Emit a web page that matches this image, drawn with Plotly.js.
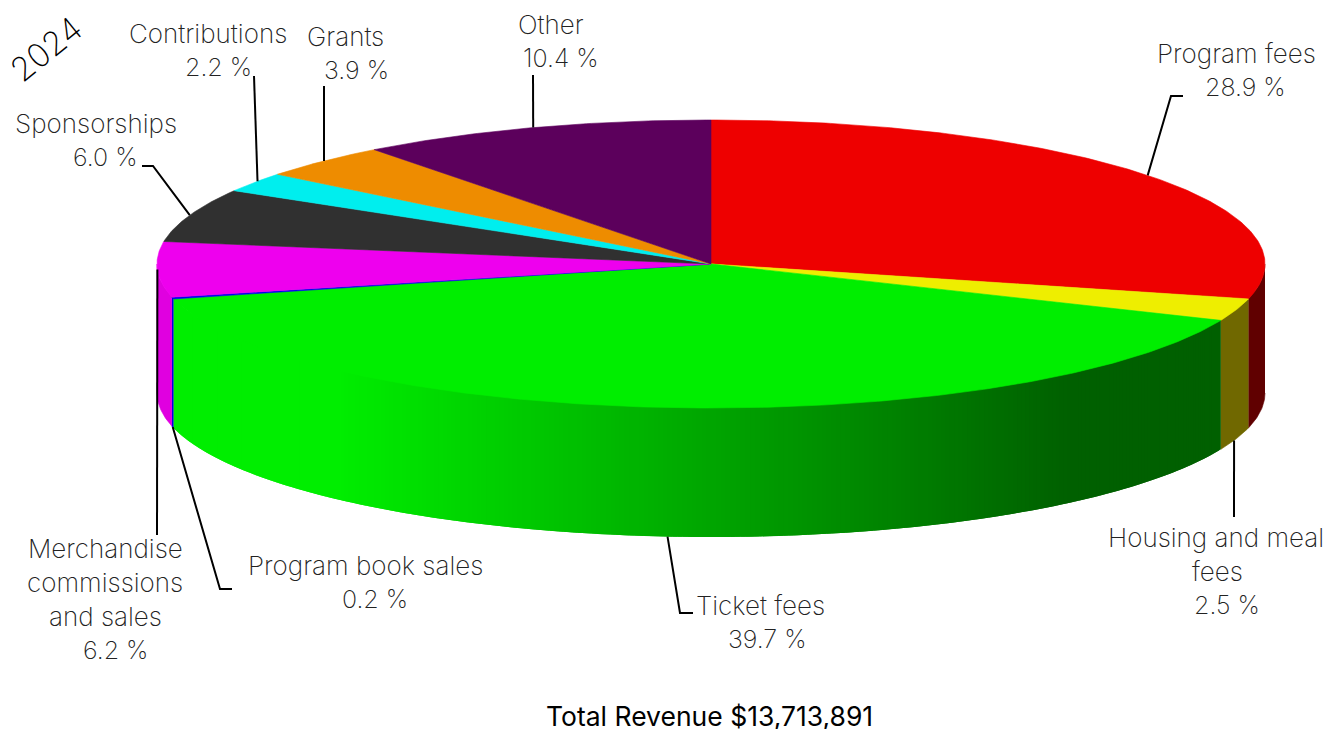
<!DOCTYPE html>
<html>
<head>
<meta charset="utf-8">
<script src="https://cdn.plot.ly/plotly-3.0.1.min.js"></script>
<style>html,body{margin:0;padding:0;background:#fff}#chart{width:1326px;height:729px}</style>
</head>
<body>
<div id="chart"></div>
<script>
// Revenue shares in percent, clockwise from twelve o'clock
const categories = ["Program fees", "Housing and meal fees", "Ticket fees", "Program book sales",
  "Merchandise commissions and sales", "Sponsorships", "Contributions", "Grants", "Other"];
const shares = [28.9, 2.5, 39.7, 0.2, 6.2, 6.0, 2.2, 3.9, 10.4];
const topColors = ["#ee0000", "#eeee00", "#00ee00", "#0000ee", "#ee00ee", "#303030", "#00eeee", "#ee8c00", "#5c005c"];
const wallColors = ["#600000", "#706800", null, "#0000e0", "#e000e0", "#303030", "#00e0e0", "#e08400", "#5c005c"];
const year = "2024";
const totalLabel = "Total Revenue $13,713,891";

// Label text lines: text, centre x, centre y
const labelLines = [
  ["Program fees", 1236, 53], ["28.9 %", 1245, 87],
  ["Housing and meal", 1216, 537], ["fees", 1217, 571], ["2.5 %", 1227, 605],
  ["Ticket fees", 760, 605], ["39.7 %", 767, 639],
  ["Program book sales", 365, 565], ["0.2 %", 375, 599],
  ["Merchandise", 105, 548], ["commissions", 105, 582], ["and sales", 105, 616], ["6.2 %", 115, 650],
  ["Sponsorships", 96, 123], ["6.0 %", 105, 157],
  ["Contributions", 208, 33], ["2.2 %", 218, 67],
  ["Grants", 345, 36], ["3.9 %", 356, 70],
  ["Other", 551, 24], ["10.4 %", 561, 58]
];
// Leader routes after the rim anchor, one per slice
const leaderRoutes = [
  [[1171, 96], [1183, 96]],
  [[1234, 517]],
  [[680, 613], [693, 613]],
  [[220, 589], [232, 589]],
  [[157, 535]],
  [[153, 166], [142, 166]],
  [[254, 76]],
  [[324, 86]],
  [[533, 75]]
];
// Small shift of each leader's anchor along the rim, in degrees
const anchorShift = [0, 0.7, 0, 0, 0, 0, 0.5, 0.15, 0];

// Projection of the tilted disc onto the plotting plane
const CX = 711, CY = 264, RX = 554, RY = 144, DEPTH = 129;
const TEXT_FONT = "Inter, sans-serif";
const rimX = deg => CX + RX * Math.sin(deg * Math.PI / 180);
const rimY = deg => CY - RY * Math.cos(deg * Math.PI / 180);
// Upper wall edge sits just inside the rim so the top face covers it cleanly
const wallTopY = deg => CY - (RY - 2) * Math.cos(deg * Math.PI / 180);

function arc(from, to) {
  const n = Math.max(2, Math.ceil((to - from) / 0.5));
  const pts = [];
  for (let i = 0; i <= n; i++) pts.push(from + (to - from) * i / n);
  return pts;
}
function polygon(xs, ys, color, edge) {
  return {
    x: xs, y: ys, type: "scatter", mode: "lines", fill: "toself", fillcolor: color,
    line: {color: color, width: edge}, hoverinfo: "skip", showlegend: false
  };
}
function wallQuad(a, b, color, edge) {
  const pts = arc(a, b);
  const rev = pts.slice().reverse();
  return polygon(pts.map(rimX).concat(rev.map(rimX)),
    pts.map(wallTopY).concat(rev.map(d => rimY(d) + DEPTH)), color, edge);
}
// Ticket wall darkens from left to right
function shadedGreen(x) {
  const t = Math.min(1, Math.max(0, (1072 - x) / (1072 - 340)));
  const g = Math.round(0x60 + t * (0xee - 0x60));
  return "rgb(0," + g + ",0)";
}

const spans = [];
let acc = 0;
shares.forEach(v => { spans.push([acc * 3.6, (acc + v) * 3.6]); acc += v; });

const traces = [];
// Outer wall of the front half, then the top face over it
spans.forEach((s, i) => {
  const a = Math.max(s[0], 90), b = Math.min(s[1], 270);
  if (b <= a) return;
  if (wallColors[i]) {
    traces.push(wallQuad(a, b, wallColors[i], 0.6));
  } else {
    const step = 0.5;
    for (let d = b; d > a; d -= step) {
      const lo = Math.max(a, d - step);
      traces.push(wallQuad(lo, Math.min(b, d + step), shadedGreen(rimX((lo + d) / 2)), 0));
    }
  }
});
spans.forEach((s, i) => {
  const pts = arc(s[0], s[1]);
  traces.push(polygon([CX].concat(pts.map(rimX), [CX]), [CY].concat(pts.map(rimY), [CY]), topColors[i], 0.6));
});
// Leader lines: anchored at each slice's mid-angle on the rim
spans.forEach((s, i) => {
  const mid = (s[0] + s[1]) / 2 + anchorShift[i];
  const front = mid > 90 && mid < 265;
  const start = [rimX(mid), rimY(mid) + (front ? DEPTH : 0)];
  const route = [start].concat(leaderRoutes[i]);
  traces.push({
    x: route.map(p => p[0]), y: route.map(p => p[1]), type: "scatter", mode: "lines",
    line: {color: "#000", width: 2}, hoverinfo: "skip", showlegend: false
  });
});

// Names are set slightly larger than the percentages beneath them
const annotations = labelLines.map(l => ({
  x: l[1], y: l[2], text: l[0], showarrow: false, xanchor: "center", yanchor: "middle",
  font: {family: TEXT_FONT, size: l[0].includes("%") ? 25 : 26, color: "#222", weight: 200}
}));
annotations.push({
  x: 46, y: 49, text: year, textangle: -39, showarrow: false, xanchor: "center", yanchor: "middle",
  font: {family: TEXT_FONT, size: 33, color: "#000", weight: 200}
});
annotations.push({
  x: 709, y: 716, text: totalLabel, showarrow: false, xanchor: "center", yanchor: "middle",
  font: {family: TEXT_FONT, size: 26.5, color: "#000", weight: 400}
});

const hidden = {visible: false, fixedrange: true};
Plotly.newPlot("chart", traces, {
  width: 1326, height: 729, margin: {l: 0, r: 0, t: 0, b: 0},
  paper_bgcolor: "#fff", plot_bgcolor: "#fff", showlegend: false,
  xaxis: Object.assign({range: [0, 1326]}, hidden),
  yaxis: Object.assign({range: [729, 0]}, hidden),
  annotations: annotations
}, {displayModeBar: false, staticPlot: true});
</script>
</body>
</html>
